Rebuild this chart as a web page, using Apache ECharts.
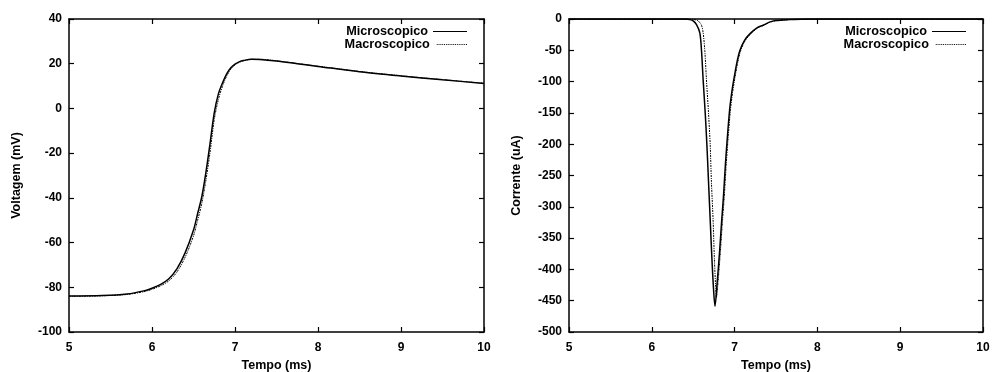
<!DOCTYPE html>
<html>
<head>
<meta charset="utf-8">
<script src="https://cdn.jsdelivr.net/npm/echarts@6/dist/echarts.min.js"></script>
<style>
  html, body { margin: 0; padding: 0; background: #fff; }
  #chart { width: 992px; height: 372px; }
</style>
</head>
<body>
<div id="chart"></div>
<script>
// voltage (mV) vs time (ms)
const vTime = [5.0, 5.4, 5.7, 5.9, 6.0, 6.1, 6.2, 6.3, 6.4, 6.5, 6.55, 6.6, 6.65, 6.7, 6.75, 6.8, 6.85, 6.9, 6.95, 7.0, 7.05, 7.1, 7.2, 7.3, 7.5, 7.75, 8.0, 8.5, 9.0, 9.5, 10.0];
const vMicro = [-83.9, -83.7, -83.0, -81.6, -80.4, -78.8, -76.3, -71.8, -64.5, -54.4, -47, -39.5, -28.5, -15.5, -2, 6.5, 11.5, 15.5, 18.2, 19.8, 20.8, 21.4, 22.0, 21.9, 21.2, 20.0, 18.8, 16.4, 14.5, 12.8, 11.2];
const vMacro = [-84.0, -83.8, -83.2, -82.0, -80.9, -79.4, -77.2, -73.2, -66.5, -57, -50, -42.5, -32, -19.5, -5, 4, 10, 14.5, 17.6, 19.5, 20.6, 21.3, 22.0, 22.0, 21.3, 20.1, 18.9, 16.5, 14.6, 12.9, 11.3];

// current (uA) vs time (ms)
const iMicroTime = [5.0, 6.40, 6.46, 6.50, 6.54, 6.58, 6.60, 6.62, 6.645, 6.665, 6.685, 6.705, 6.725, 6.745, 6.763, 6.79, 6.82, 6.845, 6.865, 6.89, 6.915, 6.94, 6.965, 6.99, 7.03, 7.065, 7.12, 7.19, 7.27, 7.35, 7.42, 7.5, 7.65, 7.8, 8.0, 10.0];
const iMicro = [0, 0, -1, -3, -9, -22, -50, -97, -150, -200, -260, -320, -380, -430, -459, -420, -369, -320, -285, -230, -185, -145, -118, -97, -68, -50, -34, -23, -14, -9.6, -5, -2.5, -1, -0.3, 0, 0];
const iMacroTime = [5.0, 6.45, 6.52, 6.56, 6.60, 6.62, 6.64, 6.66, 6.685, 6.705, 6.72, 6.74, 6.755, 6.77, 6.78, 6.80, 6.83, 6.855, 6.875, 6.90, 6.925, 6.95, 6.975, 7.0, 7.04, 7.075, 7.13, 7.2, 7.28, 7.36, 7.43, 7.51, 7.66, 7.81, 8.0, 10.0];
const iMacro = [0, 0, -1, -3, -10, -22, -50, -97, -150, -200, -260, -320, -380, -425, -445, -420, -369, -320, -285, -230, -185, -145, -118, -97, -68, -50, -34, -23, -14, -9.6, -5, -2.5, -1, -0.3, 0, 0];

const seriesNames = ["Microscopico", "Macroscopico"];

const font = { color: "#000", fontFamily: "Liberation Sans, Arial, sans-serif", fontWeight: "bold", fontSize: 12 };
const titleFont = Object.assign({}, font, { fontSize: 12.5 });
const legendFont = Object.assign({}, font, { fontSize: 12.7 });
const pairs = (xs, ys) => xs.map((x, i) => [x, ys[i]]);

const chart = echarts.init(document.getElementById("chart"), null, { renderer: "canvas" });

const grids = [
  { left: 69, top: 19, width: 415, height: 313, containLabel: false, outerBoundsMode: "none" },
  { left: 569, top: 19, width: 414, height: 313, containLabel: false, outerBoundsMode: "none" },
];

const axisLine = { show: true, onZero: false, lineStyle: { color: "#000", width: 1.5 } };
const tick = { show: true, inside: true, length: 5, lineStyle: { color: "#000", width: 1.2 } };

function xAxes(gi) {
  const base = { type: "value", gridIndex: gi, min: 5, max: 10, interval: 1, splitLine: { show: false }, axisLine, axisTick: tick };
  return [
    Object.assign({}, base, {
      position: "bottom",
      name: "Tempo (ms)", nameLocation: "middle", nameGap: 27, nameMoveOverlap: false,
      nameTextStyle: titleFont,
      axisLabel: Object.assign({ margin: 10 }, font),
    }),
    Object.assign({}, base, { position: "top", axisLabel: { show: false } }),
  ];
}

function yAxes(gi, min, max, interval, name) {
  const base = { type: "value", gridIndex: gi, min, max, interval, splitLine: { show: false }, axisLine, axisTick: tick };
  return [
    Object.assign({}, base, {
      position: "left",
      name, nameLocation: "middle", nameGap: 46,
      nameTextStyle: titleFont,
      axisLabel: Object.assign({ margin: 7 }, font),
    }),
    Object.assign({}, base, { position: "right", axisLabel: { show: false } }),
  ];
}

const solid = { color: "#000", width: 1.5, type: "solid" };
const dotted = { color: "#000", width: 1, type: [2, 1, 1, 1] };

// legend key samples: a filled bar for the solid line, short dashes for the dotted one
const solidIcon = "path://M0,0H34V1.2H0Z";
let dottedIcon = "path://";
for (let x = 0; x < 34; x += 2) dottedIcon += "M" + x + ",0h1v1.2h-1Z";

function line(name, data, xi, yi, style) {
  return {
    name, type: "line", data, xAxisIndex: xi, yAxisIndex: yi,
    symbol: "none", smooth: 0.3, lineStyle: style, color: "#000",
    silent: true, animation: false,
  };
}

function legends(right, gridTag) {
  return seriesNames.map((n, i) => ({
    data: [n + gridTag],
    right, top: 25 + i * 13,
    icon: i === 0 ? solidIcon : dottedIcon,
    align: "right", itemWidth: 34, itemHeight: i === 0 ? 1.4 : 1.1, itemGap: 0,
    formatter: () => n,
    textStyle: Object.assign({ padding: [0, 0, 0, 0] }, legendFont),
    padding: 0,
  }));
}

chart.setOption({
  backgroundColor: "#fff",
  animation: false,
  grid: grids,
  xAxis: [...xAxes(0), ...xAxes(1)],
  yAxis: [...yAxes(0, -100, 40, 20, "Voltagem (mV)"), ...yAxes(1, -500, 0, 50, "Corrente (uA)")],
  legend: [...legends(992 - 467, " "), ...legends(992 - 966, "  ")],
  series: [
    line(seriesNames[0] + " ", pairs(vTime, vMicro), 0, 0, solid),
    line(seriesNames[1] + " ", pairs(vTime, vMacro), 0, 0, dotted),
    line(seriesNames[0] + "  ", pairs(iMicroTime, iMicro), 2, 2, solid),
    line(seriesNames[1] + "  ", pairs(iMacroTime, iMacro), 2, 2, dotted),
  ],
});
</script>
</body>
</html>
